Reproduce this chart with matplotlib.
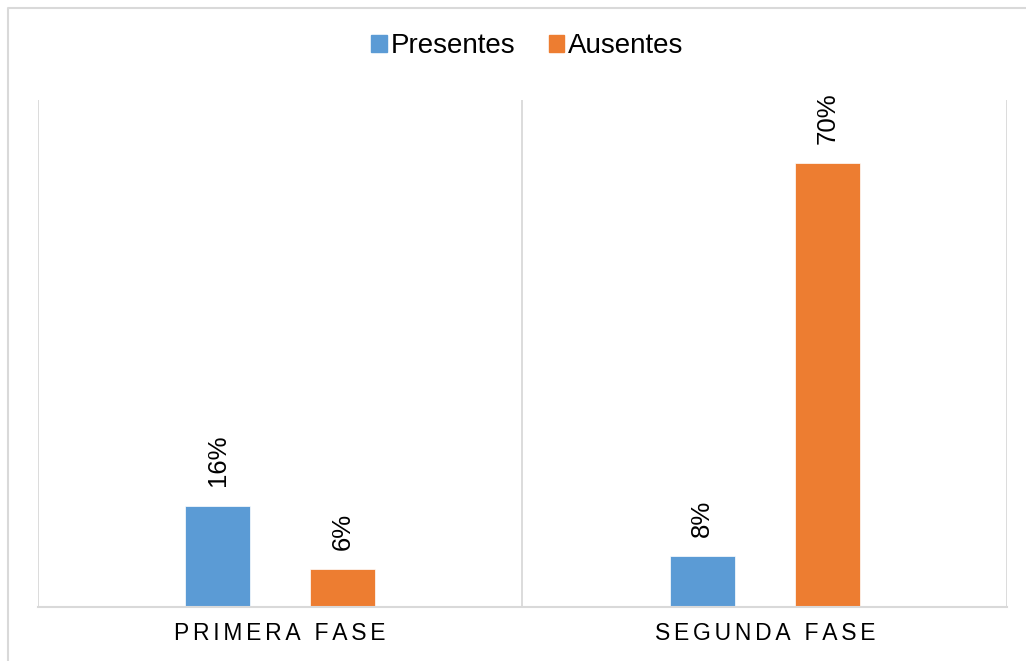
import matplotlib.pyplot as plt
from matplotlib.lines import Line2D
from matplotlib.patches import Patch
import numpy as np

# data
fases = ["PRIMERA FASE", "SEGUNDA FASE"]
presentes = [0.16, 0.08]
ausentes = [0.06, 0.70]

BLUE = "#5B9BD5"
ORANGE = "#ED7D31"
GRID = "#D9D9D9"

plt.rcParams['font.family'] = ['Liberation Sans', 'DejaVu Sans']

fig = plt.figure(figsize=(10.26, 6.61), dpi=100)
ax = fig.add_axes([0.037, 0.0817, 0.9445, 0.767])

x = np.arange(len(fases))
off = 0.129
w = 0.134
b1 = ax.bar(x - off, presentes, w, color=BLUE, edgecolor="white", linewidth=0.5)
b2 = ax.bar(x + off, ausentes, w, color=ORANGE, edgecolor="white", linewidth=0.5)

# data labels, rotated
for bars, vals in ((b1, presentes), (b2, ausentes)):
    for rect, v in zip(bars, vals):
        ax.annotate(f"{v*100:.0f}%", (rect.get_x() + rect.get_width() / 2, v),
                    xytext=(0, 14), textcoords="offset points",
                    rotation=90, ha="center", va="bottom", fontsize=18.5)

ax.set_xlim(-0.5, 1.5)
ax.set_ylim(0, 0.8)
for xv in (-0.5, 0.5, 1.5):
    ax.axvline(xv, color=GRID, lw=1.3, zorder=0)

for s in ("top", "right", "left"):
    ax.spines[s].set_visible(False)
ax.spines["bottom"].set_color(GRID)
ax.spines["bottom"].set_linewidth(1.5)
ax.set_yticks([])

# spaced out category labels
ax.set_xticks(x)
ax.set_xticklabels(["\u2006".join(f) for f in fases], fontsize=16.5)
ax.tick_params(axis="x", length=0, pad=11)

handles = [Patch(color=BLUE, label="Presentes"), Patch(color=ORANGE, label="Ausentes")]
fig.legend(handles=handles, loc="center", bbox_to_anchor=(0.514, 0.930), ncol=2,
           frameon=False, fontsize=20, handlelength=0.55, handleheight=0.55,
           handletextpad=0.15, columnspacing=1.2)

# outer chart frame (only top and left visible in the crop)
fig.add_artist(Line2D([8 / 1026, 8 / 1026, 1], [0, 1 - 8 / 661, 1 - 8 / 661],
                      transform=fig.transFigure, color=GRID, lw=1.5))

fig.savefig("out.png", dpi=100)
